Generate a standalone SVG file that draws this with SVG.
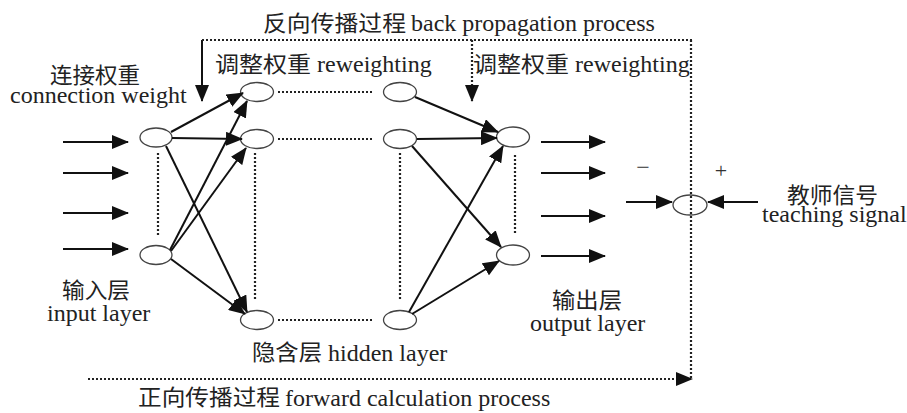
<svg xmlns="http://www.w3.org/2000/svg" width="907" height="413" viewBox="0 0 907 413">
<style>
.node{fill:#fff;stroke:#444;stroke-width:1.3}
.ln{stroke:#111;stroke-width:2;fill:none}
.arr{marker-end:url(#ah)}
.dot{stroke:#222;stroke-width:2.2;stroke-dasharray:2 2;fill:none}
</style>
<defs>
<marker id="ah" markerUnits="userSpaceOnUse" viewBox="0 0 17 14" markerWidth="17" markerHeight="14" refX="16" refY="7" orient="auto">
<path d="M0,0 L17,7 L0,14 Z" fill="#111"/>
</marker>
</defs>
<rect width="907" height="413" fill="#fff"/>

<g id="input1"><ellipse class="node" cx="156" cy="137.5" rx="16" ry="9.5"/></g>
<g id="input2"><ellipse class="node" cx="156" cy="255" rx="16" ry="9.5"/></g>
<g id="hidden1a"><ellipse class="node" cx="257" cy="92" rx="16.5" ry="9.5"/></g>
<g id="hidden2a"><ellipse class="node" cx="257" cy="139" rx="16.5" ry="9.5"/></g>
<g id="hidden3a"><ellipse class="node" cx="257" cy="320" rx="16.5" ry="9.5"/></g>
<g id="hidden1b"><ellipse class="node" cx="400" cy="92" rx="16.5" ry="9.5"/></g>
<g id="hidden2b"><ellipse class="node" cx="400" cy="139" rx="16.5" ry="9.5"/></g>
<g id="hidden3b"><ellipse class="node" cx="400" cy="320" rx="16.5" ry="9.5"/></g>
<g id="output1"><ellipse class="node" cx="513" cy="137" rx="16.5" ry="10"/></g>
<g id="output2"><ellipse class="node" cx="513" cy="255" rx="16.5" ry="10"/></g>
<g id="sum"><ellipse class="node" cx="690" cy="205" rx="17" ry="10"/></g>

<g id="connectors">
<line class="ln arr" x1="63" y1="142" x2="128" y2="142"/>
<line class="ln arr" x1="63" y1="173" x2="128" y2="173"/>
<line class="ln arr" x1="63" y1="213" x2="128" y2="213"/>
<line class="ln arr" x1="63" y1="249" x2="128" y2="249"/>

<line class="ln arr" x1="171" y1="132" x2="243" y2="93"/>
<line class="ln arr" x1="172" y1="138" x2="242" y2="139"/>
<line class="ln arr" x1="166" y1="146" x2="247" y2="312"/>
<line class="ln arr" x1="170" y1="250" x2="247" y2="101"/>
<line class="ln arr" x1="171" y1="251" x2="246" y2="148"/>
<line class="ln arr" x1="171" y1="259" x2="245" y2="314"/>

<line class="ln arr" x1="415" y1="97" x2="498" y2="132"/>
<line class="ln arr" x1="417" y1="139" x2="497" y2="138"/>
<line class="ln arr" x1="412" y1="146" x2="501" y2="247"/>
<line class="ln arr" x1="409" y1="312" x2="503" y2="146"/>
<line class="ln arr" x1="412" y1="314" x2="499" y2="261"/>

<line class="ln arr" x1="541" y1="142" x2="605" y2="142"/>
<line class="ln arr" x1="541" y1="173" x2="605" y2="173"/>
<line class="ln arr" x1="541" y1="216" x2="605" y2="216"/>
<line class="ln arr" x1="541" y1="256" x2="605" y2="256"/>

<line class="ln arr" x1="626" y1="202" x2="672" y2="202"/>
<line class="ln arr" x1="758" y1="202" x2="708" y2="202"/>

<line class="ln arr" x1="202" y1="40" x2="202" y2="101"/>
<line class="dot" x1="202" y1="40" x2="692" y2="40"/>
<line class="dot arr" x1="472" y1="40" x2="472" y2="101"/>
<line class="dot" x1="691" y1="40" x2="691" y2="378"/>
<line class="dot arr" x1="88" y1="379" x2="692" y2="379"/>

<line class="dot" x1="158" y1="153" x2="158" y2="235"/>
<line class="dot" x1="255" y1="153" x2="255" y2="300"/>
<line class="dot" x1="400" y1="153" x2="400" y2="300"/>
<line class="dot" x1="515" y1="155" x2="515" y2="235"/>
<line class="dot" x1="278" y1="92" x2="373" y2="92"/>
<line class="dot" x1="278" y1="139" x2="373" y2="139"/>
<line class="dot" x1="278" y1="320" x2="373" y2="320"/>
</g>

<g id="labels-cjk" font-family="Noto Sans CJK SC, Noto Sans CJK TC, sans-serif" font-size="22" fill="#222">
<text x="263" y="31" textLength="143" lengthAdjust="spacingAndGlyphs">反向传播过程</text>
<text x="50" y="83" textLength="90" lengthAdjust="spacingAndGlyphs">连接权重</text>
<text x="215" y="72" textLength="96" lengthAdjust="spacingAndGlyphs">调整权重</text>
<text x="473" y="72" textLength="96" lengthAdjust="spacingAndGlyphs">调整权重</text>
<text x="787" y="203" textLength="91" lengthAdjust="spacingAndGlyphs">教师信号</text>
<text x="62" y="298" textLength="68" lengthAdjust="spacingAndGlyphs">输入层</text>
<text x="252" y="360" textLength="70" lengthAdjust="spacingAndGlyphs">隐含层</text>
<text x="552" y="308" textLength="70" lengthAdjust="spacingAndGlyphs">输出层</text>
<text x="138" y="405" textLength="142" lengthAdjust="spacingAndGlyphs">正向传播过程</text>
</g>
<g id="labels-latin" font-family="Liberation Serif, serif" font-size="24" fill="#222">
<text x="411" y="31">back propagation process</text>
<text x="10" y="103">connection weight</text>
<text x="317" y="72">reweighting</text>
<text x="575" y="72">reweighting</text>
<text x="762" y="222">teaching signal</text>
<text x="47" y="321">input layer</text>
<text x="328" y="361">hidden layer</text>
<text x="530" y="331">output layer</text>
<text x="285" y="406">forward calculation process</text>
<text x="643" y="175" font-size="24" text-anchor="middle" fill="#333">−</text>
<text x="721" y="178" font-size="22" text-anchor="middle" fill="#333">+</text>
</g>
</svg>
